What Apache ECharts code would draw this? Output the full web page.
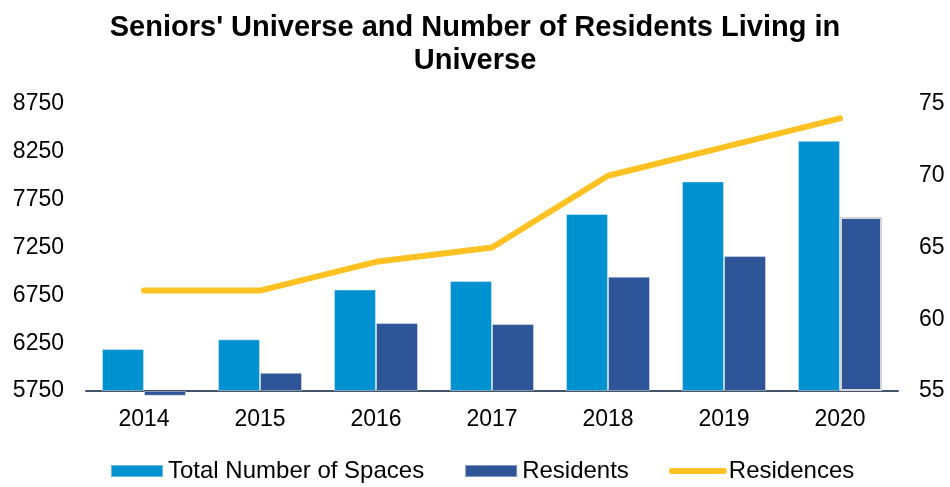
<!DOCTYPE html>
<html>
<head>
<meta charset="utf-8">
<script src="https://cdn.jsdelivr.net/npm/echarts@6/dist/echarts.min.js"></script>
<style>
  html, body { margin: 0; padding: 0; background: #fff; }
  #chart { width: 950px; height: 487px; }
</style>
</head>
<body>
<div id="chart"></div>
<script>
// Datos
const years = ['2014', '2015', '2016', '2017', '2018', '2019', '2020'];
const totalSpaces = [6190, 6290, 6810, 6900, 7600, 7940, 8365];
const residents = [5700, 5940, 6460, 6450, 6945, 7160, 7570];
const residences = [62, 62, 64, 65, 70, 72, 74];

const leftTicks = [5750, 8750, 500];
const rightTicks = [55, 75, 5];

const font = '"Liberation Sans", Arial, sans-serif';

const chart = echarts.init(document.getElementById('chart'));

// el último punto de Residents lleva un borde gris
const residentsData = residents.map((v, i) => {
  if (i === residents.length - 1) {
    return { value: v, itemStyle: { borderColor: '#d4d4d4', borderWidth: 2 } };
  }
  return v;
});

const option = {
  animation: false,
  textStyle: { fontFamily: font },
  title: {
    text: "Seniors' Universe and Number of Residents Living in\nUniverse",
    left: 'center',
    top: 6,
    textStyle: {
      fontFamily: font,
      fontSize: 29,
      fontWeight: 'bold',
      color: '#000',
      lineHeight: 33
    }
  },
  grid: {
    left: 86,
    right: 52,
    top: 104,
    bottom: 96
  },
  legend: {
    top: 459,
    left: 110,
    padding: 0,
    itemWidth: 52,
    itemHeight: 12,
    itemGap: 40,
    textStyle: { fontFamily: font, fontSize: 24, color: '#000' },
    data: [
      { name: 'Total Number of Spaces', icon: 'rect' },
      { name: 'Residents', icon: 'rect' },
      { name: 'Residences', itemStyle: { opacity: 0 }, lineStyle: { width: 6, cap: 'round' } }
    ]
  },
  xAxis: {
    type: 'category',
    data: years,
    axisLine: { lineStyle: { color: '#44546a', width: 2 } },
    axisTick: { show: false },
    axisLabel: { color: '#000', fontSize: 23, margin: 17, fontFamily: font }
  },
  yAxis: [
    {
      type: 'value',
      min: leftTicks[0],
      max: leftTicks[1],
      interval: leftTicks[2],
      startValue: leftTicks[0],
      splitLine: { show: false },
      axisLine: { show: false },
      axisTick: { show: false },
      axisLabel: { color: '#000', fontSize: 23, margin: 22, fontFamily: font, formatter: v => String(v) }
    },
    {
      type: 'value',
      min: rightTicks[0],
      max: rightTicks[1],
      interval: rightTicks[2],
      splitLine: { show: false },
      axisLine: { show: false },
      axisTick: { show: false },
      axisLabel: { color: '#000', fontSize: 23, margin: 21, fontFamily: font }
    }
  ],
  series: [
    {
      name: 'Total Number of Spaces',
      type: 'bar',
      data: totalSpaces,
      barWidth: 42,
      barGap: '0%',
      clip: false,
      itemStyle: { color: '#0092d0', borderColor: 'rgba(255,255,255,0.4)', borderWidth: 1 }
    },
    {
      name: 'Residents',
      type: 'bar',
      data: residentsData,
      barWidth: 42,
      clip: false,
      itemStyle: { color: '#2e5597', borderColor: 'rgba(255,255,255,0.4)', borderWidth: 1 }
    },
    {
      name: 'Residences',
      type: 'line',
      yAxisIndex: 1,
      data: residences,
      symbol: 'none',
      lineStyle: { color: '#ffc222', width: 6, cap: 'round', join: 'round' },
      itemStyle: { color: '#ffc222' },
      z: 5
    }
  ]
};

chart.setOption(option);
</script>
</body>
</html>
